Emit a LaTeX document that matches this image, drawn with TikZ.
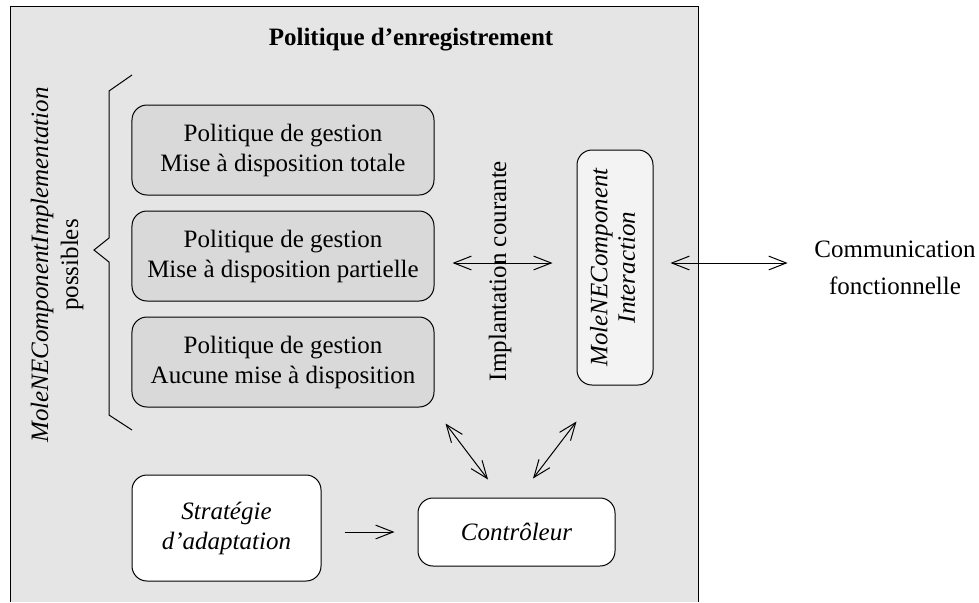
\documentclass[tikz,border=0pt]{standalone}
\usepackage{fontspec}
\setmainfont{Liberation Serif}
\usepackage{graphicx}
\usetikzlibrary{arrows.meta}
\definecolor{fondcadre}{HTML}{E5E5E5}
\definecolor{fondpol}{HTML}{D9D9D9}
\definecolor{fondinter}{HTML}{F3F3F3}

\begin{document}
\begin{tikzpicture}[x=0.4pt, y=-0.4pt,
  boite/.style={draw, thin, rounded corners=6pt, align=center, inner sep=2pt},
  politique/.style={boite, fill=fondpol, minimum width=120.8pt, minimum height=36pt},
  blanche/.style={boite, fill=white, font=\itshape},
  fleche/.style={thin, -{Straight Barb[length=7pt,width=5.5pt]}},
  dfleche/.style={thin, {Straight Barb[length=7pt,width=5.5pt]}-{Straight Barb[length=7pt,width=5.5pt]}}]
\useasboundingbox (0,0) rectangle (979,602);
\fill[fondcadre] (10,6) rectangle (698,602);
\draw[thin] (10,602) -- (10,6) -- (698,6) -- (698,602);

\node[font=\bfseries] (titre) at (411,40) {Politique d'enregistrement};

\node[politique] (pol1) at (283,150) {Politique de gestion\\Mise à disposition totale};
\node[politique] (pol2) at (283,256) {Politique de gestion\\Mise à disposition partielle};
\node[politique] (pol3) at (283,362) {Politique de gestion\\Aucune mise à disposition};

% accolade devant les trois politiques
\draw[thin] (132,75) -- (109,91) -- (109,238) -- (94,250) -- (109,262) -- (109,415) -- (132,430);
\node[rotate=90, align=center] (impl) at (57,265) {\textit{MoleNEComponentImplementation}\\possibles};

\node[rotate=90] (cour) at (500,271) {Implantation courante};
\node[boite, fill=fondinter, minimum width=30.4pt, minimum height=94pt] (inter) at (615,267.5)
  {\rotatebox{90}{\begin{tabular}{@{}c@{}}\itshape MoleNEComponent\\[-1pt]\itshape Interaction\end{tabular}}};
\node[align=center] (comm) at (895,268) {Communication\\[3pt]fonctionnelle};

\node[blanche, minimum width=75.6pt, minimum height=42.4pt] (strat) at (226.5,528) {Stratégie\\d'adaptation};
\node[blanche, minimum width=78.8pt, minimum height=27.2pt] (contr) at (516.5,532) {Contrôleur};

\coordinate (ligne) at (0,263); % hauteur des fleches horizontales
\draw[dfleche, shorten <=7.2pt, shorten >=9.6pt] (pol2.east |- ligne) -- (inter.west |- ligne);
\draw[dfleche, shorten <=6.8pt, shorten >=7.2pt] (inter.east |- ligne) -- (comm.west |- ligne);

\draw[dfleche] ([xshift=4.4pt,yshift=-6.4pt]pol3.south east) -- ([xshift=-11.4pt,yshift=7.2pt]contr.north);
\draw[dfleche] ([yshift=-14.4pt]inter.south west) -- ([xshift=6.6pt,yshift=7.6pt]contr.north);
\draw[fleche, shorten <=9.2pt, shorten >=9.2pt] (strat.east |- contr.west) -- (contr.west);
\end{tikzpicture}
\end{document}
